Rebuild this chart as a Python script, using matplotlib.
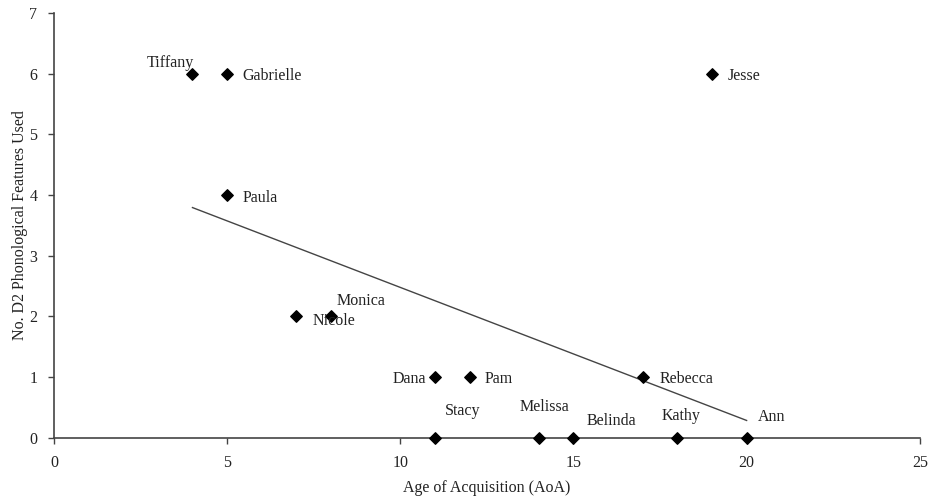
import numpy as np
import matplotlib
matplotlib.use("Agg")
import matplotlib.pyplot as plt

plt.rcParams['font.family'] = ['Liberation Serif', 'DejaVu Serif']

names = ["Tiffany", "Gabrielle", "Jesse", "Paula", "Nicole", "Monica", "Dana", "Pam",
         "Rebecca", "Stacy", "Melissa", "Belinda", "Kathy", "Ann"]
aoa = [4, 5, 19, 5, 7, 8, 11, 12, 17, 11, 14, 15, 18, 20]
features = [6, 6, 6, 4, 2, 2, 1, 1, 1, 0, 0, 0, 0, 0]

# label offsets (points) and alignment
offsets = {
    "Tiffany": (-16, 8, 'center'),
    "Gabrielle": (11, -2, 'left'),
    "Jesse": (11, -2, 'left'),
    "Paula": (11, -2, 'left'),
    "Nicole": (12, -3, 'left'),
    "Monica": (4, 11, 'left'),
    "Dana": (-6, -1, 'right'),
    "Pam": (11, -1, 'left'),
    "Rebecca": (12, -1, 'left'),
    "Stacy": (20, 19, 'center'),
    "Melissa": (4, 22, 'center'),
    "Belinda": (27, 12, 'center'),
    "Kathy": (3, 16, 'center'),
    "Ann": (18, 15, 'center'),
}

fig = plt.figure(figsize=(9.3, 4.97), dpi=100)
ax = fig.add_axes([0.058, 0.119, 0.931, 0.855])

x = np.array(aoa, dtype=float)
y = np.array(features, dtype=float)
slope, intercept = np.polyfit(x, y, 1)
xf = np.array([x.min(), x.max()])
ax.plot(xf, slope * xf + intercept, color='#444444', lw=1.0, zorder=2)

ax.scatter(x, y, marker='D', s=34, color='black', zorder=3, clip_on=False)

for n, xi, yi in zip(names, aoa, features):
    dx, dy, ha = offsets[n]
    ax.annotate(n, (xi, yi), xytext=(dx, dy), textcoords='offset points',
                ha=ha, va='center', fontsize=11.5, color='#222222')

ax.set_xlim(0, 25)
ax.set_ylim(0, 7)
ax.set_xticks([0, 5, 10, 15, 20, 25])
ax.set_yticks(range(0, 8))
for s in ['top', 'right']:
    ax.spines[s].set_visible(False)
for s in ['left', 'bottom']:
    ax.spines[s].set_color('#444444')
    ax.spines[s].set_linewidth(1.2)
ax.tick_params(axis='both', direction='out', length=4, width=1, color='#444444',
               labelsize=11.5, labelcolor='#222222', pad=8)
ax.set_xlabel("Age of Acquisition (AoA)", fontsize=11.5, color='#222222', labelpad=7)
ax.set_ylabel("No. D2 Phonological Features Used", fontsize=11.5, color='#222222', labelpad=1)

fig.savefig("out.png", dpi=100)
